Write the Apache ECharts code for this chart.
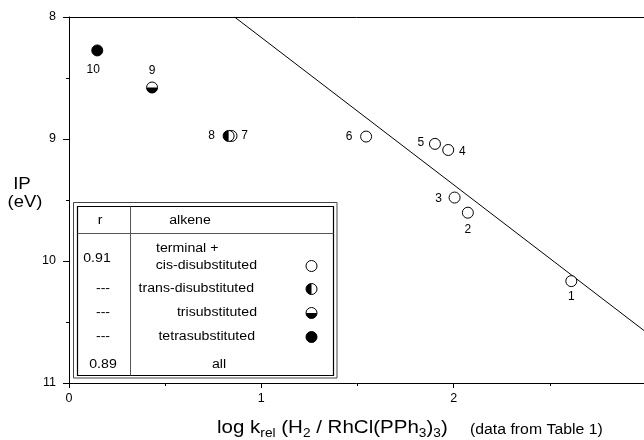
<!DOCTYPE html>
<html><head><meta charset="utf-8">
<script src="https://cdn.jsdelivr.net/npm/echarts@6/dist/echarts.min.js"></script>
<style>html,body{margin:0;padding:0;background:#fff}#c{width:644px;height:440px}</style>
</head><body><div id="c"></div>
<script>
// ---- data ----
const pointIds   = ['1','2','3','4','5','6','7','8','9','10'];
const logKrel    = [2.612, 2.074, 2.005, 1.972, 1.903, 1.545, 0.845, 0.830, 0.432, 0.147];
const ipEV       = [10.165, 9.604, 9.480, 9.090, 9.040, 8.980, 8.975, 8.975, 8.578, 8.274];
const alkeneType = ['open','open','open','open','open','open','trans','trans','tri','tetra'];
const fitLogK    = [0.861, 2.99];
const fitIP      = [8.0, 10.57];
const xTickLabels = ['0','1','2'];
const yTickLabels = ['8','9','10','11'];
const tableHeader = ['r','alkene'];
const tableR      = ['0.91','---','---','---','0.89'];
const tableAlkene = ['terminal +\ncis-disubstituted','trans-disubstituted','trisubstituted','tetrasubstituted','all'];
const tableSymbol = ['open','trans','tri','tetra',null];

// ---- styling (not data) ----
const FONT = '"Liberation Sans", Arial, sans-serif';
const labelOffset = {'1':[0,16],'2':[0,17],'3':[-16,1],'4':[14,2],'5':[-14,-1],'6':[-17,0],'7':[13,0],'8':[-17,0],'9':[0,-17],'10':[-4,19]};
const R = 5.5;

function symbolShapes(type, cx, cy, r){
  const out = [{type:'circle', shape:{cx:cx, cy:cy, r:r},
    style:{fill: type==='tetra' ? '#000' : '#fff', stroke:'#000', lineWidth:1}}];
  if (type==='trans') out.push({type:'sector', shape:{cx:cx, cy:cy, r0:0, r:r, startAngle:Math.PI/2, endAngle:Math.PI*1.5, clockwise:true}, style:{fill:'#000'}});
  if (type==='tri') out.push({type:'sector', shape:{cx:cx, cy:cy, r0:0, r:r, startAngle:0, endAngle:Math.PI, clockwise:true}, style:{fill:'#000'}});
  return out;
}

const pointData = pointIds.map((id,i)=>[logKrel[i], ipEV[i]]);

function renderPoint(params, api){
  const i = params.dataIndex;
  const p = api.coord([api.value(0), api.value(1)]);
  const id = pointIds[i];
  const off = labelOffset[id];
  const children = symbolShapes(alkeneType[i], p[0], p[1], R);
  children.push({type:'text', x:p[0]+off[0], y:p[1]+off[1],
    style:{text:id, fill:'#000', fontSize:12, fontFamily:FONT, align:'center', verticalAlign:'middle'}});
  return {type:'group', children:children};
}

// table graphic
const tbl = [];
tbl.push({type:'rect', shape:{x:73.5,y:202.5,width:263.5,height:175.5}, style:{fill:'#fff', stroke:'#444', lineWidth:1}});
tbl.push({type:'rect', shape:{x:77.5,y:206.5,width:256,height:169}, style:{fill:'#fff', stroke:'#000', lineWidth:1.2}});
tbl.push({type:'line', shape:{x1:130.5,y1:206.5,x2:130.5,y2:375.5}, style:{stroke:'#555', lineWidth:1}});
tbl.push({type:'line', shape:{x1:77.5,y1:233.5,x2:333.5,y2:233.5}, style:{stroke:'#555', lineWidth:1}});
function txt(t,x,y,align,size,sx){
  return {type:'text', x:x, y:y, scaleX:sx||1.13, style:{text:t, fill:'#000', fontSize:size||12.5, fontFamily:FONT, align:align||'center', verticalAlign:'middle'}};
}
tbl.push(txt(tableHeader[0],100,221));
tbl.push(txt(tableHeader[1],190,221));
const rowY = [259,289,313,337,365];
const rX = [97,103,103,103,103];
tableR.forEach((r,i)=>tbl.push(txt(r,rX[i],rowY[i])));
const alkLines0 = tableAlkene[0].split('\n');
tbl.push(txt(alkLines0[0],156,249,'left'));
tbl.push(txt(alkLines0[1],257,266,'right'));
tbl.push(txt(tableAlkene[1],254,289,'right'));
tbl.push(txt(tableAlkene[2],257,313,'right'));
tbl.push(txt(tableAlkene[3],255,337,'right'));
tbl.push(txt(tableAlkene[4],219,365));
const symY = [266,289,313,337];
tableSymbol.forEach((s,i)=>{ if(s) symbolShapes(s,311.5,symY[i],R).forEach(e=>tbl.push(e)); });

// axis titles
tbl.push({type:'text', x:22, y:184, scaleX:1.1, style:{text:'IP', fill:'#000', fontSize:17, fontFamily:FONT, align:'center', verticalAlign:'middle'}});
tbl.push({type:'text', x:25, y:203, scaleX:1.15, style:{text:'(eV)', fill:'#000', fontSize:16, fontFamily:FONT, align:'center', verticalAlign:'middle'}});
tbl.push({type:'text', x:217, y:428, scaleX:1.14, style:{
  text:'{m|log k}{s|rel}{m| (H}{s|2}{m| / RhCl(PPh}{s|3}{m|)}{s|3}{m|)}',
  fill:'#000', fontFamily:FONT, align:'left', verticalAlign:'middle',
  rich:{m:{fontSize:18, fontFamily:FONT, lineHeight:24, fill:'#000'}, s:{fontSize:12, fontFamily:FONT, lineHeight:12, verticalAlign:'bottom', fill:'#000'}}
}});
tbl.push({type:'text', x:470, y:430, scaleX:1.13, style:{text:'(data from Table 1)', fill:'#000', fontSize:14, fontFamily:FONT, align:'left', verticalAlign:'middle'}});

const chart = echarts.init(document.getElementById('c'), null, {renderer:'canvas'});
chart.setOption({
  animation:false,
  backgroundColor:'#fff',
  grid:{left:69, top:17, right:0, bottom:57, show:false, containLabel:false},
  xAxis:[{type:'value', min:0, max:2.99, interval:1,
    axisLine:{show:true, lineStyle:{color:'#000', width:1}},
    axisTick:{show:true, length:5, lineStyle:{color:'#000'}},
    minorTick:{show:true, splitNumber:2, length:3, lineStyle:{color:'#000'}},
    splitLine:{show:false},
    axisLabel:{color:'#000', fontSize:12.5, fontFamily:FONT, margin:9, showMaxLabel:false,
      formatter:v=>{ const k=Math.round(v); return (Math.abs(v-k)<1e-6 && k<xTickLabels.length) ? xTickLabels[k] : ''; }}
  },{type:'value', position:'top', min:0, max:2.99,
    axisLine:{show:true, onZero:false, lineStyle:{color:'#000', width:1}},
    axisTick:{show:false}, axisLabel:{show:false}, splitLine:{show:false}
  }],
  yAxis:{type:'value', min:8, max:11, interval:1, inverse:true,
    axisLine:{show:true, lineStyle:{color:'#000', width:1}},
    axisTick:{show:true, length:6, lineStyle:{color:'#000'}},
    minorTick:{show:true, splitNumber:2, length:3, lineStyle:{color:'#000'}},
    splitLine:{show:false},
    axisLabel:{color:'#000', fontSize:12.5, fontFamily:FONT, margin:13,
      formatter:v=>yTickLabels[Math.round(v)-8]}
  },
  series:[
    {type:'line', data:fitLogK.map((x,i)=>[x, fitIP[i]]), showSymbol:false, symbol:'none',
      lineStyle:{color:'#000', width:1}, clip:true, silent:true, z:1},
    {type:'custom', data:pointData, renderItem:renderPoint, encode:{x:0,y:1}, z:3, clip:false}
  ],
  graphic:{elements:tbl}
});
</script></body></html>
